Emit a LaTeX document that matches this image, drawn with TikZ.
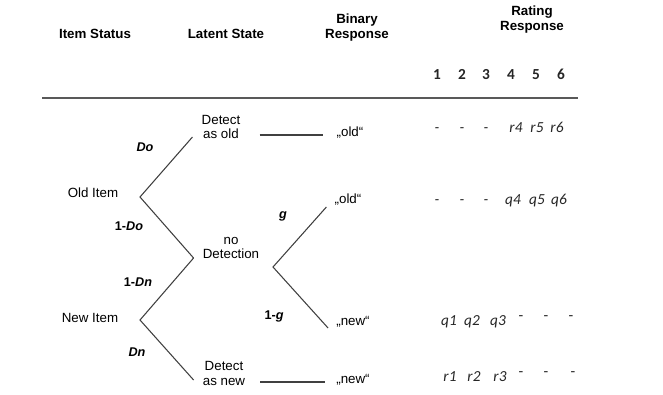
\documentclass[tikz,border=0pt]{standalone}
\usepackage{fontspec}
\setmainfont{Liberation Sans}
\newfontfamily\ratefont[Numbers=Lining]{Carlito}
\begin{document}
\begin{tikzpicture}[x=0.75pt,y=-0.75pt,
  head/.style={font=\bfseries\fontsize{10}{11.2}\selectfont,align=center},
  txt/.style={font=\fontsize{10}{11.2}\selectfont,align=center,inner sep=3pt},
  prob/.style={font=\bfseries\fontsize{9.5}{11}\selectfont},
  rate/.style={font=\ratefont\fontsize{11.5}{13}\selectfont,text=black!85,
    text height=1.6ex,text depth=0.4ex},
  branch/.style={draw=black!75,line width=0.8pt}]
  \useasboundingbox (0,0) rectangle (663,394);

  % headings
  \node[head] (hstat) at (95,34) {Item Status};
  \node[head] (hlat) at (226,34) {Latent State};
  \node[head] (hbin) at (357,28) {Binary\\Response};
  \node[head] (hrat) at (532,20) {Rating\\Response};
  \foreach \i/\x in {1/437,2/462,3/486,4/511,5/536,6/561}
    \node[rate,font=\ratefont\bfseries\fontsize{11.5}{13}\selectfont] (col\i) at (\x,75) {\i};
  \draw[draw=black!65,line width=1.5pt] (42,98) -- (578,98);

  % tree
  \node[txt] (olditem) at (93,193) {Old Item};
  \node[txt] (newitem) at (90,318) {New Item};
  \node[txt] (detold) at (221,127) {Detect\\as old};
  \node[txt] (nodet) at (231,248) {no\\Detection};
  \node[txt] (detnew) at (224,373) {Detect\\as new};
  \node[txt] (rold1) at (350,133) {„old“};
  \node[txt] (rold2) at (348,200) {„old“};
  \node[txt] (rnew1) at (353,322) {„new“};
  \node[txt] (rnew2) at (353,380) {„new“};

  \coordinate (vold) at (140,197);
  \coordinate (vnew) at (140,320);
  \coordinate (vnd) at (273,267);

  \draw[branch] ([shift={(-5,10)}]detold.west) -- (vold) -- ([shift={(-5,10)}]nodet.west);
  \draw[branch] ([shift={(-5,10)}]nodet.west) -- (vnew) -- ([shift={(-5,7)}]detnew.west);
  \draw[branch] ([shift={(-4,7)}]rold2.west) -- (vnd) -- ([shift={(-4,6)}]rnew1.west);
  \draw[branch] ([shift={(15,8)}]detold.east) -- ([shift={(-9,2)}]rold1.west);
  \draw[branch] ([shift={(11,9)}]detnew.east) -- ([shift={(-7,2)}]rnew2.west);

  \node[prob] (pdo) at (145,147) {\textit{Do}};
  \node[prob] (pndo) at (129,226) {1-\textit{Do}};
  \node[prob] (pndn) at (138,282) {1-\textit{Dn}};
  \node[prob] (pdn) at (137,352) {\textit{Dn}};
  \node[prob] (pg) at (283,216) {\textit{g}};
  \node[prob] (png) at (274,316) {1-\textit{g}};

  % ratings
  \foreach \x/\t [count=\i] in {437/-,462/-,486/-,516/r4,537/r5,557/r6}
    \node[rate] (ra\i) at (\x,128) {\textit{\t}};
  \foreach \x/\t [count=\i] in {437/-,462/-,486/-,513/q4,537/q5,559/q6}
    \node[rate] (rb\i) at (\x,200) {\textit{\t}};
  \foreach \x/\t [count=\i] in {449/q1,472/q2,498/q3}
    \node[rate] (rc\i) at (\x,321) {\textit{\t}};
  \foreach \x [count=\i] in {521,546,571}
    \node[rate] (rcd\i) at (\x,316) {-};
  \foreach \x/\t [count=\i] in {450/r1,474/r2,500/r3}
    \node[rate] (rd\i) at (\x,377) {\textit{\t}};
  \foreach \x [count=\i] in {521,546,573}
    \node[rate] (rdd\i) at (\x,372) {-};

\end{tikzpicture}
\end{document}
